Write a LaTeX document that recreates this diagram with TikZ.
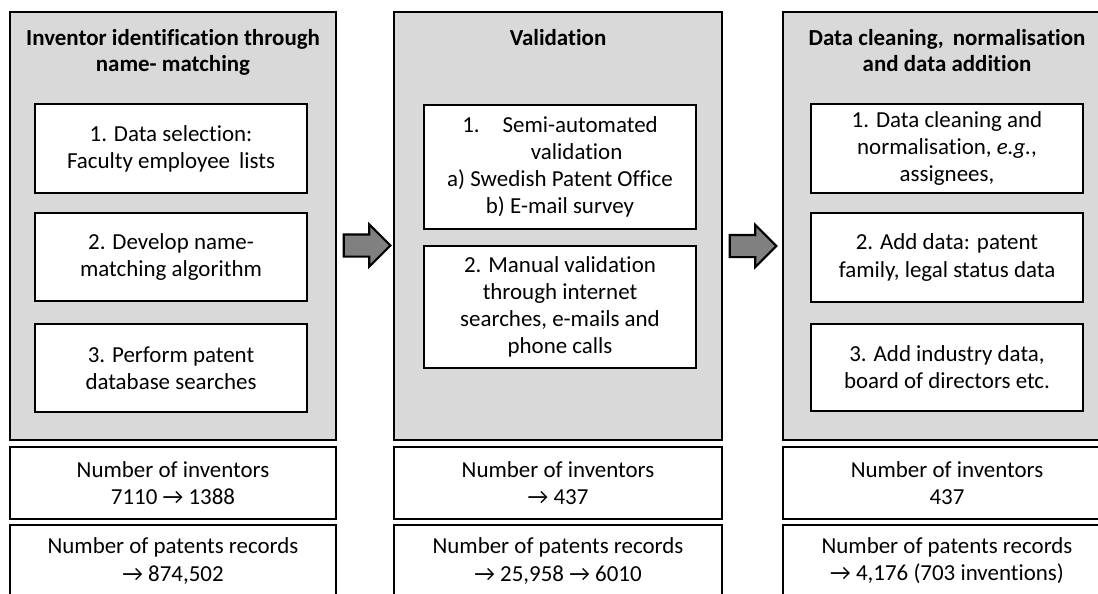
\documentclass[tikz,border=0pt]{standalone}
\usepackage{fontspec}
\setmainfont{Carlito}[Ligatures=NoCommon]
\usetikzlibrary{shapes.arrows}

% sizes are given in pixels (1px = 0.75pt)
\tikzset{
  wd/.style={minimum width=#1*0.75pt},
  ht/.style={minimum height=#1*0.75pt},
  panel/.style={draw=black, line width=2.2pt, fill={rgb,255:red,217;green,217;blue,217}, inner sep=0pt},
  stepbox/.style={draw=black, line width=2.2pt, fill=white, wd=272, align=center, inner sep=2pt, font=\fontsize{17.2}{20.3}\selectfont},
  countbox/.style={draw=black, line width=2.2pt, fill=white, ht=72, align=center, inner sep=2pt, font=\fontsize{17.2}{20.3}\selectfont},
  heading/.style={anchor=north, align=center, inner sep=0pt, font=\fontsize{17.2}{19.5}\selectfont\bfseries},
  blockarrow/.style={single arrow, draw=black, line width=1.6pt, fill={rgb,255:red,128;green,128;blue,128}, minimum height=35pt, inner sep=7.5pt, single arrow head extend=7.5pt}
}
\newcommand{\arr}{→}

\begin{document}
\begin{tikzpicture}[x=0.75pt,y=0.75pt,yscale=-1,xscale=1]
\useasboundingbox (0,0) rectangle (1098,593);
\clip (0,0) rectangle (1098,593);

%Panels
\node [panel, wd=326, ht=428] (stage1) at (173,226) {};
\node [panel, wd=328, ht=428] (stage2) at (558,226) {};
\node [panel, wd=328, ht=428] (stage3) at (947,226) {};

% Headings
\node [heading] (title1) at (173,29) {Inventor identification through\\name- matching};
\node [heading] (title2) at (558,29) {Validation};
\node [heading] (title3) at (947,29) {Data cleaning,\, normalisation\\and data addition};

%Steps of the first panel
\node [stepbox, ht=89] (s1a) at (171,148.5) {1. Data selection:\\Faculty employee\, lists};
\node [stepbox, ht=88] (s1b) at (171,257) {2. Develop name-\\matching algorithm};
\node [stepbox, ht=88] (s1c) at (171,368) {3. Perform patent\\database searches};

%Steps of the second panel
\node [stepbox, ht=124] (s2a) at (560,167) {1.\quad Semi-automated\\\hspace*{25pt}validation\\a) Swedish Patent Office\\b) E-mail survey};
\node [stepbox, ht=122] (s2b) at (560,307) {2. Manual validation\\through internet\\searches, e-mails and\\phone calls};

%Steps of the third panel
\node [stepbox, ht=89] (s3a) at (947,148.5) {1. Data cleaning and\\normalisation, \textit{e.g.},\\assignees,};
\node [stepbox, ht=89] (s3b) at (947,257.5) {2. Add data: patent\\family, legal status data};
\node [stepbox, ht=87] (s3c) at (947,367.5) {3. Add industry data,\\board of directors etc.};

%Counts below the panels
\node [countbox, wd=326] (inv1) at (173,483) {Number of inventors\\7110 \arr\ 1388};
\node [countbox, wd=326] (pat1) at (173,561) {Number of patents records\\\arr\ 874,502};
\node [countbox, wd=328] (inv2) at (558,483) {Number of inventors\\\arr\ 437};
\node [countbox, wd=328] (pat2) at (558,561) {Number of patents records\\\arr\ 25,958 \arr\ 6010};
\node [countbox, wd=328] (inv3) at (947,483) {Number of inventors\\437};
\node [countbox, wd=328] (pat3) at (947,561) {Number of patents records\\\arr\ 4,176 (703 inventions)};

%Arrows between the panels
\node [blockarrow] (arr1) at (361.5,245.5) {};
\node [blockarrow] (arr2) at (747.5,246) {};

\end{tikzpicture}
\end{document}
